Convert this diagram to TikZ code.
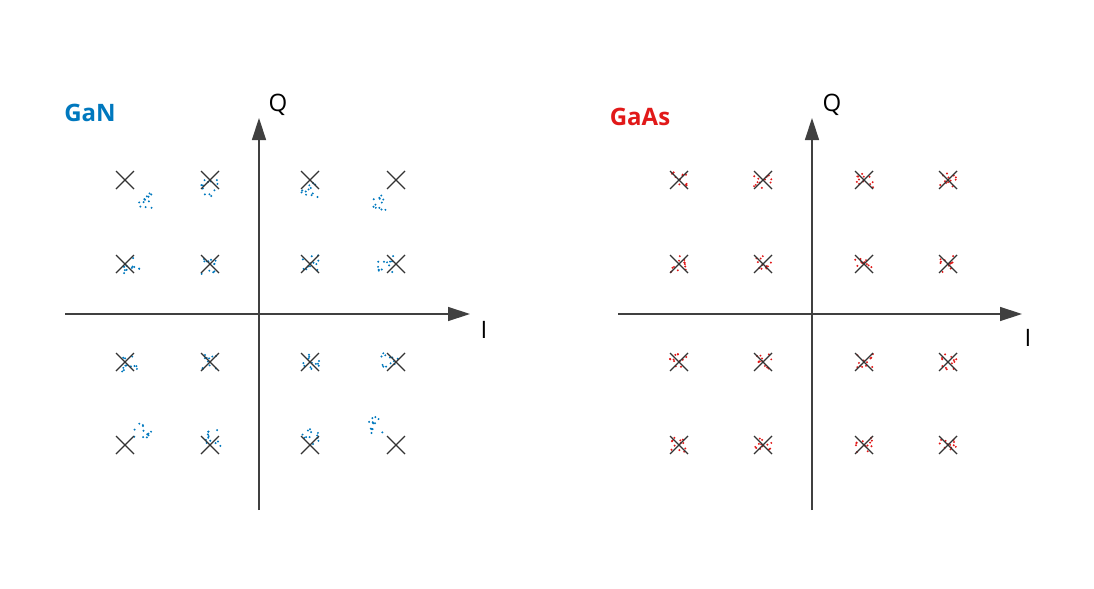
\documentclass[tikz,border=0pt]{standalone}
\usepackage{fontspec}
\setmainfont{Open Sans}
\usetikzlibrary{arrows.meta}
\definecolor{ganblue}{RGB}{0,120,190}
\definecolor{gaasred}{RGB}{225,25,25}
\tikzset{
  axis/.style={line width=0.7pt,draw=black!75,-{Triangle[length=11pt,width=7pt]}},
  xmark/.style={line width=0.7pt,draw=black!80},
  lbl/.style={font=\large},
}
\begin{document}
\begin{tikzpicture}[x=0.5pt,y=-0.5pt]
\useasboundingbox (0,0) rectangle (1094,589);
\pgfmathsetseed{7}
% GaN axes
\draw[axis] (259,510) -- (259,118);
\draw[axis] (65,314) -- (470,314);
\node[lbl] (qa) at (278,105) {Q};
\node[lbl] (ia) at (484,330) {I};
\node[font=\large\bfseries,text=ganblue] (gan) at (90,113) {GaN};
% GaN received symbols
\foreach \cx/\cy in {145/200,210/188,310/190,378/203,131/266,210/266,310/262,386/264,
                     130/364,210/362,310/362,390/360,143/430,212/438,310/437,378/425}{
  \foreach \k in {1,...,12}{
    \fill[ganblue] (\cx+9*rand,\cy+8*rand) circle (1.1);
  }
}
% GaN ideal points
\foreach \px in {125,210,310,396}{
  \foreach \py in {180,264,362,445}{
    \draw[xmark] (\px-9,\py-9) -- (\px+9,\py+9) (\px-9,\py+9) -- (\px+9,\py-9);
  }
}
% GaAs axes
\draw[axis] (812,510) -- (812,118);
\draw[axis] (618,314) -- (1022,314);
\node[lbl] (qb) at (832,105) {Q};
\node[lbl] (ib) at (1028,338) {I};
\node[font=\large\bfseries,text=gaasred] (gaas) at (640,117) {GaAs};
% GaAs received symbols
\foreach \px in {679,763,864,948}{
  \foreach \py in {180,264,362,445}{
    \foreach \k in {1,...,12}{
      \fill[gaasred] (\px+9*rand,\py+8*rand) circle (1.1);
    }
    \draw[xmark] (\px-9,\py-9) -- (\px+9,\py+9) (\px-9,\py+9) -- (\px+9,\py-9);
  }
}
\end{tikzpicture}
\end{document}
